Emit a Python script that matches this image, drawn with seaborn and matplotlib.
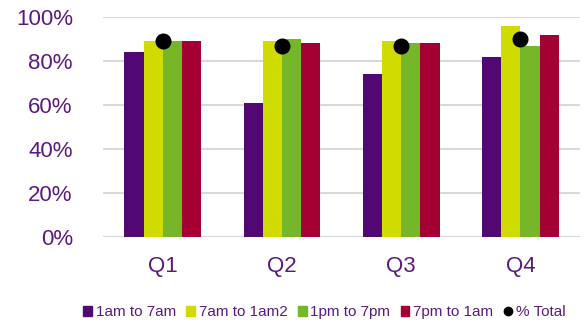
import pandas as pd
import matplotlib.pyplot as plt
import matplotlib.patches as mpatches
from matplotlib.lines import Line2D
import seaborn as sns

quarters = ["Q1", "Q2", "Q3", "Q4"]
series = ["1am to 7am", "7am to 1am2", "1pm to 7pm", "7pm to 1am"]
vals_1am_7am = [0.84, 0.61, 0.74, 0.82]
vals_7am_1pm = [0.89, 0.89, 0.89, 0.96]
vals_1pm_7pm = [0.89, 0.90, 0.88, 0.87]
vals_7pm_1am = [0.89, 0.88, 0.88, 0.92]
pct_total = [0.89, 0.87, 0.87, 0.90]

colors = ["#520872", "#D0DC00", "#76B72A", "#A50034"]
text_col = "#5B1A80"

rows = []
for s, vals in zip(series, [vals_1am_7am, vals_7am_1pm, vals_1pm_7pm, vals_7pm_1am]):
    for q, v in zip(quarters, vals):
        rows.append({"quarter": q, "series": s, "value": v})
df = pd.DataFrame(rows)

sns.set_style("white")
plt.rcParams["font.family"] = ["Liberation Sans", "DejaVu Sans"]

fig = plt.figure(figsize=(5.87, 3.22), dpi=100)
ax = fig.add_axes([0.176, 0.264, 0.812, 0.683])

sns.barplot(data=df, x="quarter", y="value", hue="series", palette=colors,
            width=0.645, gap=0, saturation=1, linewidth=0, ax=ax,
            legend=False, zorder=2)
sns.pointplot(x=quarters, y=pct_total, color="black", linestyle="none",
              markers="o", markersize=9.5, ax=ax, zorder=3)

ax.set_ylim(0, 1.0)
ax.set_xlim(-0.5, 3.5)
ax.set_yticks([0, 0.2, 0.4, 0.6, 0.8, 1.0])
ax.set_yticklabels(["0%", "20%", "40%", "60%", "80%", "100%"])
ax.yaxis.grid(True, color="#D9D9D9", linewidth=1.5, zorder=0)
ax.set_axisbelow(True)
for sp in ax.spines.values():
    sp.set_visible(False)
ax.tick_params(axis="both", length=0, labelsize=16, labelcolor=text_col)
ax.tick_params(axis="x", pad=14)
ax.tick_params(axis="y", pad=22)
ax.set_xlabel("")
ax.set_ylabel("")

handles = [mpatches.Patch(color=c, label=s) for c, s in zip(colors, series)]
handles.append(Line2D([], [], marker="o", color="black", linestyle="none",
                      markersize=6, label="% Total"))
fig.legend(handles=handles, loc="center", bbox_to_anchor=(0.553, 0.03),
           ncol=5, frameon=False, fontsize=11, labelcolor=text_col,
           handlelength=0.55, handleheight=0.55, handletextpad=0.25,
           columnspacing=0.7)

fig.savefig("out.png", dpi=100)
plt.close(fig)
